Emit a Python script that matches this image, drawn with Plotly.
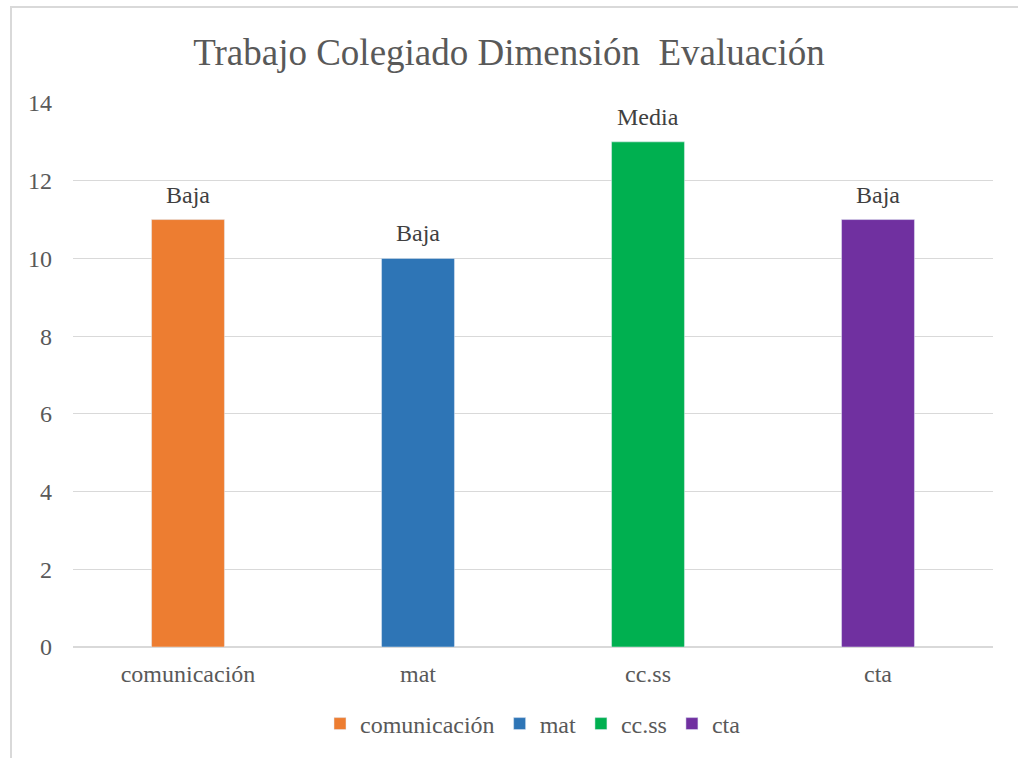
import plotly.graph_objects as go

categories = ["comunicación", "mat", "cc.ss", "cta"]
values = [11, 10, 13, 11]
labels = ["Baja", "Baja", "Media", "Baja"]
colors = ["#ED7D31", "#2E75B6", "#00B050", "#7030A0"]
y_ticks = [0, 2, 4, 6, 8, 10, 12, 14]

W, H = 1018, 758
L, R, T, B = 73, 25, 103, 111
pw, ph = W - L - R, H - T - B
SERIF = "Liberation Serif, Times New Roman, serif"

fig = go.Figure()
for c, v, col in zip(categories, values, colors):
    fig.add_trace(go.Bar(x=[c], y=[v], name=c, marker_color=col, width=0.317,
                         hoverinfo="skip"))

for c, v, lab in zip(categories, values, labels):
    fig.add_annotation(x=c, y=v, text=lab, showarrow=False, yanchor="bottom",
                       yshift=10, font=dict(family=SERIF, size=24, color="#404040"))

fig.update_layout(
    width=W, height=H,
    margin=dict(l=L, r=R, t=T, b=B),
    paper_bgcolor="white", plot_bgcolor="white",
    barmode="overlay",
    title=dict(text="Trabajo Colegiado Dimensión  Evaluación",
               x=0.5, xanchor="center", y=1 - 52 / H, yanchor="middle",
               font=dict(family=SERIF, size=37, color="#595959")),
    font=dict(family=SERIF, size=24, color="#595959"),
    showlegend=True,
    legend=dict(orientation="h", x=0.5, xanchor="center", y=-(724 - 647) / ph,
                yanchor="middle", font=dict(family=SERIF, size=24, color="#595959"),
                itemwidth=30, tracegroupgap=0),
    xaxis=dict(categoryorder="array", categoryarray=categories, showline=False,
               ticks="", tickfont=dict(family=SERIF, size=24, color="#595959"),
               showgrid=False, ticklabelstandoff=10),
    yaxis=dict(range=[0, 14], tickvals=y_ticks, showgrid=True, gridcolor="#D9D9D9",
               gridwidth=1, zeroline=True, zerolinecolor="#D9D9D9", zerolinewidth=1.5,
               showline=False, ticks="", ticklen=0, ticklabelstandoff=20,
               tickfont=dict(family=SERIF, size=24, color="#595959")),
    shapes=[dict(type="rect", xref="paper", yref="paper",
                 x0=(11 - L) / pw, x1=(W + 20 - L) / pw,
                 y0=-(B + 20) / ph, y1=(H - B - 7) / ph,
                 line=dict(color="#D9D9D9", width=2), fillcolor="rgba(0,0,0,0)",
                 layer="below")],
)

fig.write_html("out.html", config={"displayModeBar": False},
               post_script="document.body.style.margin='0';document.body.style.overflow='hidden';")
